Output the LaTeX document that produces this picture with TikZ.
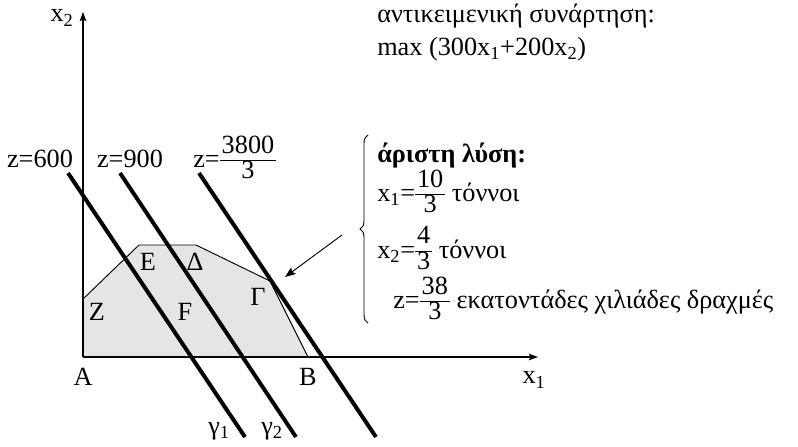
\documentclass[tikz,border=0pt]{standalone}
\usepackage{fontspec}
\setmainfont{Liberation Serif}
\usetikzlibrary{arrows.meta,decorations.pathreplacing}

% stacked fraction in text font, bar on the math axis
\newcommand{\bigfr}[2]{{\renewcommand{\arraystretch}{0.62}\setlength{\tabcolsep}{1.5pt}\begin{tabular}{c}#1\\[1pt]\hline\rule{0pt}{13.5pt}#2\end{tabular}}}

\tikzset{
	axisline/.style={line width=0.8pt,-{Stealth[length=7pt,width=5pt,inset=1.5pt]}},
	levelline/.style={line width=3pt},
	lbl/.style={inner sep=0pt},
}

\begin{document}
\begin{tikzpicture}[x=0.75pt,y=0.75pt,yscale=-1,xscale=1,font=\fontsize{19.7}{23.6}\selectfont]
	\useasboundingbox (0,0) rectangle (798,446);
	
	%Shape: feasible region
	\coordinate (A) at (83,357);
	\coordinate (Z) at (83,299);
	\coordinate (E) at (139,245);
	\coordinate (D) at (196,245);
	\coordinate (G) at (270,281);
	\coordinate (B) at (308,357);
	\draw [fill=gray!20, line width=0.7pt] (A) -- (Z) -- (E) -- (D) -- (G) -- (B) -- cycle;
	
	%Shape: Axis 2D
	\coordinate (x1end) at (538,357);
	\coordinate (x2end) at (83,12);
	\draw [axisline] (A) -- (x1end);
	\draw [axisline] (A) -- (x2end);
	
	%Straight Lines: z = const
	\coordinate (g1s) at (68,173);
	\coordinate (g1e) at (245,437);
	\coordinate (g2s) at (120,173);
	\coordinate (g2e) at (296,437);
	\coordinate (g3s) at (199,173);
	\coordinate (g3e) at (376,437);
	\draw [levelline] (g1s) -- (g1e);
	\draw [levelline] (g2s) -- (g2e);
	\draw [levelline] (g3s) -- (g3e);
	
	% Text Node
	\node [lbl] (lx2) at (62,18) {x\textsubscript{2}};
	\node [lbl] (lx1) at (534,380) {x\textsubscript{1}};
	\node [lbl] (lA) at (83,377) {A};
	\node [lbl] (lB) at (308,377) {B};
	\node [lbl] (lZ) at (97,312) {Z};
	\node [lbl] (lE) at (148,262) {E};
	\node [lbl] (lD) at (195,262) {Δ};
	\node [lbl] (lF) at (185,312) {F};
	\node [lbl] (lG) at (258,297) {Γ};
	\node [lbl] (lg1) at (219,431) {γ\textsubscript{1}};
	\node [lbl] (lg2) at (272,431) {γ\textsubscript{2}};
	
	% Text Node
	\node [lbl, anchor=base] (lz1) at (40,167) {z=600};
	\node [lbl, anchor=base] (lz2) at (130,167) {z=900};
	\node [lbl, anchor=base west] (lz3) at (193,167) {z=\bigfr{3800}{3}};
	
	% Text Node
	\node [lbl, anchor=base west] (obj) at (377,22) {αντικειμενική συνάρτηση:};
	\node [lbl, anchor=base west] (objmax) at (377,55) {max (300x\textsubscript{1}+200x\textsubscript{2})};
	
	% Text Node: optimal solution
	\node [lbl, anchor=base west] (opt) at (377,162) {\bfseries άριστη λύση:};
	\node [lbl, anchor=base west] (optx1) at (377,201) {x\textsubscript{1}=\bigfr{10}{3} τόννοι};
	\node [lbl, anchor=base west] (optx2) at (377,258) {x\textsubscript{2}=\bigfr{4}{3} τόννοι};
	\node [lbl, anchor=base west] (optz) at (393,308) {z=\bigfr{38}{3} εκατοντάδες χιλιάδες δραχμές};
	
	%Brace and arrow
	\coordinate (brb) at (368,323);
	\coordinate (brt) at (368,135);
	\draw [decorate, decoration={brace, amplitude=6pt}, line width=0.7pt] (brb) -- (brt);
	\coordinate (arrs) at (342,235);
	\coordinate (arre) at (285,277);
	\draw [line width=0.7pt, -{Stealth[length=8pt,width=6pt,inset=1.5pt]}] (arrs) -- (arre);
	
\end{tikzpicture}
\end{document}
